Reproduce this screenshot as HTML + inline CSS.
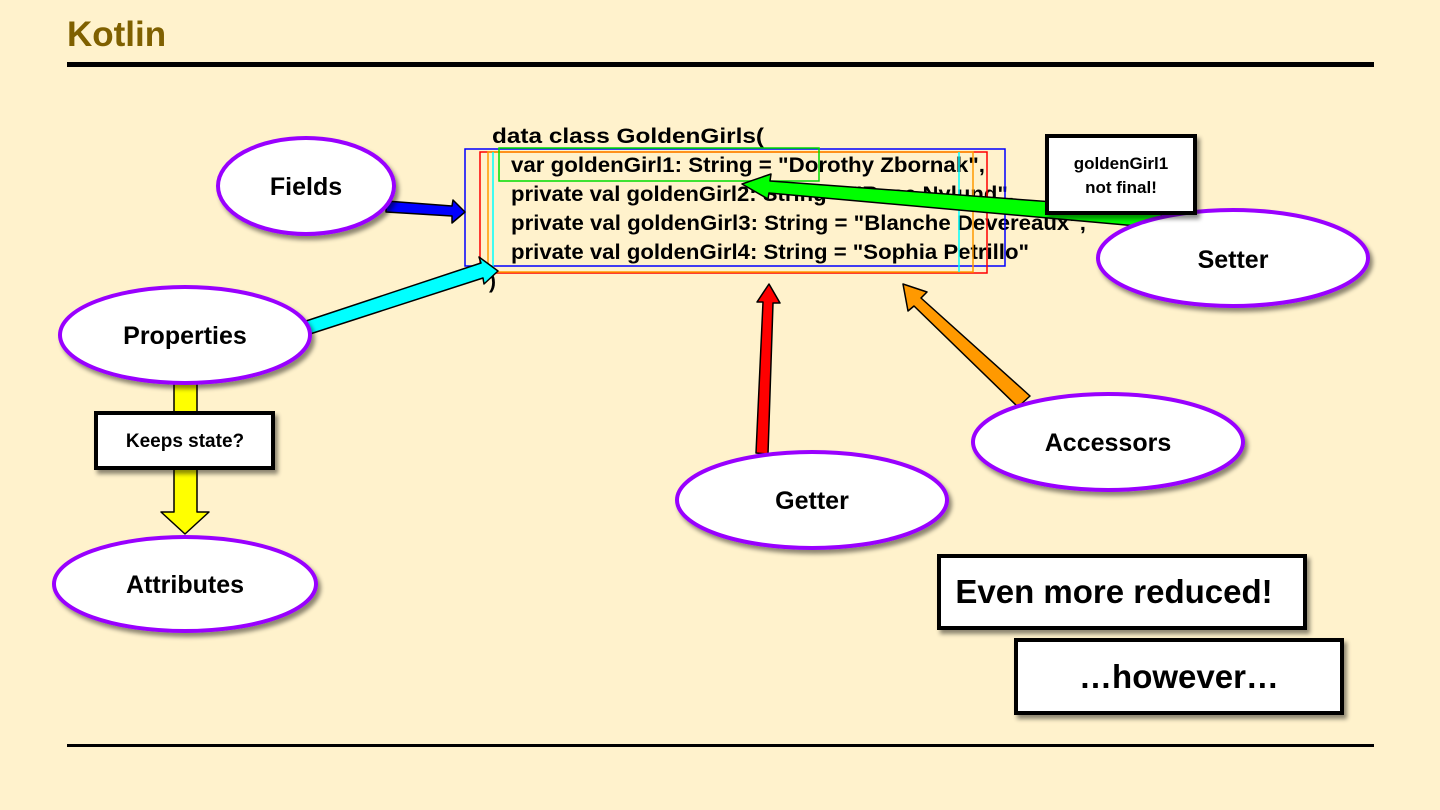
<!DOCTYPE html>
<html><head><style>
body{margin:0;background:#FFF2CC;}
svg{display:block;font-family:"Liberation Sans",sans-serif;}
</style></head><body>
<svg width="1440" height="810" viewBox="0 0 1440 810">
<defs><filter id="sh" x="-20%" y="-20%" width="150%" height="150%"><feDropShadow dx="3" dy="4" stdDeviation="2" flood-color="#000" flood-opacity="0.45"/></filter></defs>
<rect width="1440" height="810" fill="#FFF2CC"/>
<text x="67" y="46" font-size="35" font-weight="bold" fill="#7F6000">Kotlin</text>
<rect x="67" y="62" width="1307" height="5" fill="#000"/>
<rect x="67" y="744" width="1307" height="3" fill="#000"/>

<!-- code -->
<g font-size="21" font-weight="bold" fill="#000">
<text x="492" y="143" textLength="272" lengthAdjust="spacingAndGlyphs">data class GoldenGirls(</text>
<text x="511" y="172" textLength="474" lengthAdjust="spacingAndGlyphs">var goldenGirl1: String = "Dorothy Zbornak",</text>
<text x="511" y="201" textLength="503" lengthAdjust="spacingAndGlyphs">private val goldenGirl2: String = "Rose Nylund",</text>
<text x="511" y="230" textLength="575" lengthAdjust="spacingAndGlyphs">private val goldenGirl3: String = "Blanche Devereaux",</text>
<text x="511" y="259" textLength="518" lengthAdjust="spacingAndGlyphs">private val goldenGirl4: String = "Sophia Petrillo"</text>
<text x="489" y="288">)</text>
</g>
<g fill="none" stroke-width="1.5">
<rect x="465" y="149" width="540" height="117" stroke="#0000FF"/>
<rect x="480" y="152" width="507" height="121" stroke="#FF0000"/>
<rect x="488" y="152" width="485" height="120" stroke="#FF9900"/>
<line x1="493" y1="152" x2="493" y2="272" stroke="#00FFFF"/>
<line x1="959" y1="152" x2="959" y2="272" stroke="#00FFFF"/>
<rect x="499" y="148" width="320" height="33" stroke="#00DD00"/>
</g>

<!-- arrows -->
<g stroke="#000" stroke-width="1.5" stroke-linejoin="round">
<polygon points="386,201 452,206 453,200 465,212 452,223 452,216 386,212" fill="#0000FF"/>
<polygon points="306,321 481,263 479,257 498,271 484,284 483,278 310,334" fill="#00FFFF"/>
<polygon points="174,383 197,383 197,512 209,512 185,534 161,512 174,512" fill="#FFFF00"/>
<polygon points="756,453 763,302 757,302 769,284 780,303 773,303 768,454" fill="#FF0000"/>
<polygon points="1018,407 914,306 908,311 903,284 927,292 921,298 1030,396" fill="#FF9900"/>
<polygon points="1162,210 770,181 771,174 742,184 768,199 769,193 1160,228" fill="#00FF00"/>
</g>

<!-- ellipses -->
<g fill="#fff" stroke="#9900FF" stroke-width="4" filter="url(#sh)">
<ellipse cx="306" cy="186" rx="88" ry="48"/>
<ellipse cx="185" cy="335" rx="125" ry="48"/>
<ellipse cx="185" cy="584" rx="131" ry="47"/>
<ellipse cx="812" cy="500" rx="135" ry="48"/>
<ellipse cx="1108" cy="442" rx="135" ry="48"/>
<ellipse cx="1233" cy="258" rx="135" ry="48"/>
</g>
<g font-size="25" font-weight="bold" text-anchor="middle" fill="#000">
<text x="306" y="195">Fields</text>
<text x="185" y="344">Properties</text>
<text x="185" y="593">Attributes</text>
<text x="812" y="509">Getter</text>
<text x="1108" y="451">Accessors</text>
<text x="1233" y="268">Setter</text>
</g>

<!-- boxes -->
<g fill="#fff" stroke="#000" stroke-width="4" filter="url(#sh)">
<rect x="96" y="413" width="177" height="55"/>
<rect x="1047" y="136" width="148" height="77"/>
<rect x="939" y="556" width="366" height="72"/>
<rect x="1016" y="640" width="326" height="73"/>
</g>
<g font-weight="bold" text-anchor="middle" fill="#000">
<text x="185" y="447" font-size="19">Keeps state?</text>
<text x="1121" y="169" font-size="17">goldenGirl1</text>
<text x="1121" y="193" font-size="17">not final!</text>
<text x="1114" y="603" font-size="33">Even more reduced!</text>
<text x="1179" y="688" font-size="33">…however…</text>
</g>
</svg>
</body></html>
